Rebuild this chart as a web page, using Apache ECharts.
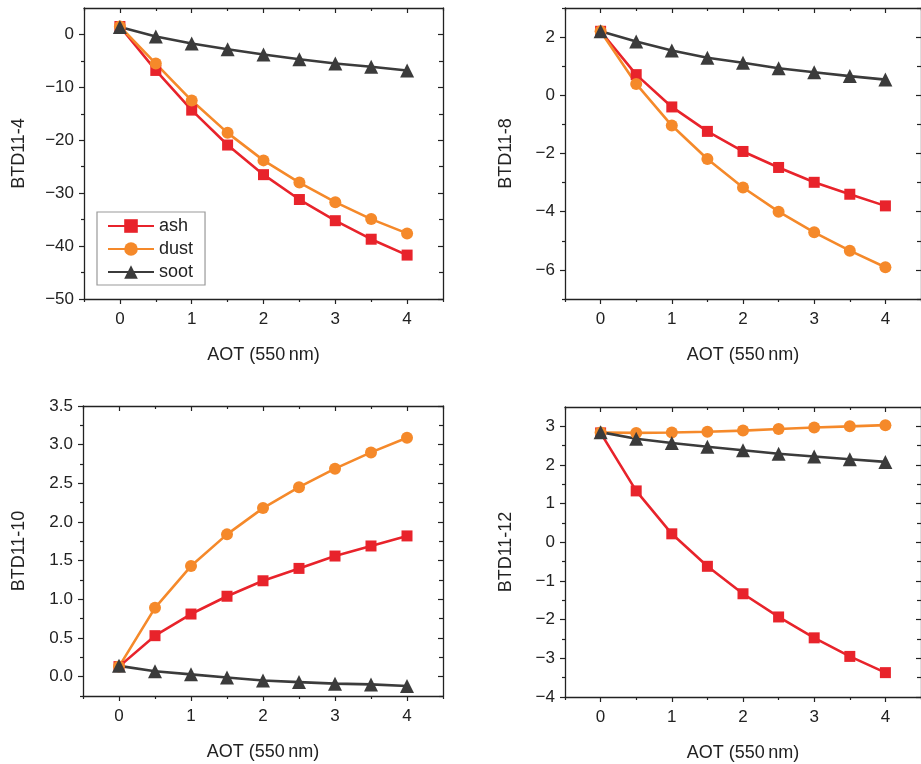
<!DOCTYPE html>
<html>
<head>
<meta charset="utf-8">
<script src="https://cdn.jsdelivr.net/npm/echarts@6/dist/echarts.min.js"></script>
<style>
  html, body { margin: 0; padding: 0; background: #fff; }
  #chart { width: 921px; height: 764px; }
</style>
</head>
<body>
<div id="chart"></div>
<script>
// AOT values on the x axis
const aot = [0, 0.5, 1, 1.5, 2, 2.5, 3, 3.5, 4];
const xMajor = [0, 1, 2, 3, 4];
const xMinor = [-0.5, 0.5, 1.5, 2.5, 3.5, 4.5];

// BTD11-4
const ash4  = [1.5, -6.8, -14.3, -20.9, -26.5, -31.2, -35.2, -38.7, -41.7];
const dust4 = [1.5, -5.5, -12.5, -18.6, -23.8, -28.0, -31.7, -34.9, -37.6];
const soot4 = [1.4, -0.4, -1.7, -2.8, -3.8, -4.7, -5.5, -6.1, -6.8];
const yMajor4 = [-50, -40, -30, -20, -10, 0];
const yMinor4 = [-45, -35, -25, -15, -5];

// BTD11-8
const ash8  = [2.2, 0.71, -0.40, -1.24, -1.93, -2.48, -2.99, -3.40, -3.80];
const dust8 = [2.2, 0.39, -1.04, -2.19, -3.17, -4.00, -4.71, -5.34, -5.91];
const soot8 = [2.2, 1.85, 1.54, 1.29, 1.12, 0.93, 0.79, 0.66, 0.54];
const yMajor8 = [-6, -4, -2, 0, 2];
const yMinor8 = [-7, -5, -3, -1, 1, 3];

// BTD11-10
const ash10  = [0.13, 0.53, 0.81, 1.04, 1.24, 1.40, 1.56, 1.69, 1.82];
const dust10 = [0.13, 0.89, 1.43, 1.84, 2.18, 2.45, 2.69, 2.90, 3.09];
const soot10 = [0.14, 0.07, 0.03, -0.01, -0.05, -0.07, -0.09, -0.10, -0.12];
const yMajor10 = [0, 0.5, 1, 1.5, 2, 2.5, 3, 3.5];
const yMinor10 = [-0.25, 0.25, 0.75, 1.25, 1.75, 2.25, 2.75, 3.25];

// BTD11-12
const ash12  = [2.83, 1.33, 0.22, -0.62, -1.33, -1.93, -2.47, -2.95, -3.37];
const dust12 = [2.84, 2.83, 2.84, 2.86, 2.89, 2.93, 2.97, 3.00, 3.03];
const soot12 = [2.85, 2.68, 2.57, 2.47, 2.38, 2.29, 2.22, 2.15, 2.08];
const yMajor12 = [-4, -3, -2, -1, 0, 1, 2, 3];
const yMinor12 = [-3.5, -2.5, -1.5, -0.5, 0.5, 1.5, 2.5];

const panels = [
  { title: 'BTD11-4',  ash: ash4,  dust: dust4,  soot: soot4,  min: -50,   max: 5,   major: yMajor4,  minor: yMinor4,  dec: 0 },
  { title: 'BTD11-8',  ash: ash8,  dust: dust8,  soot: soot8,  min: -7,    max: 3,   major: yMajor8,  minor: yMinor8,  dec: 0 },
  { title: 'BTD11-10', ash: ash10, dust: dust10, soot: soot10, min: -0.25, max: 3.5, major: yMajor10, minor: yMinor10, dec: 1 },
  { title: 'BTD11-12', ash: ash12, dust: dust12, soot: soot12, min: -4,    max: 3.5, major: yMajor12, minor: yMinor12, dec: 0 }
];

// plot boxes
const layout = [
  { left: 84,  top: 8,   width: 359, height: 291, gap: 56 },
  { left: 565, top: 8,   width: 359, height: 291, gap: 50 },
  { left: 83,  top: 406, width: 360, height: 290, gap: 55 },
  { left: 565, top: 407, width: 359, height: 290, gap: 50 }
];

const AXIS = '#222';
const FONT = 'Liberation Sans, Arial, sans-serif';
const colors = { ash: '#e8232b', dust: '#f5892a', soot: '#3b3b3b' };

function fmt(v, dec) {
  return v.toFixed(dec).replace('-', '\u2212');
}

function axis(dim, gi, pos, min, max, ticks, len, inside, opts) {
  return Object.assign({
    type: 'value', gridIndex: gi, position: pos, min: min, max: max,
    splitLine: { show: false },
    axisLine: { show: false, onZero: false, lineStyle: { color: AXIS, width: 1.3 } },
    axisTick: { show: true, customValues: ticks, length: len, inside: inside, lineStyle: { color: AXIS, width: 1.2 } },
    axisLabel: { show: false }
  }, opts || {});
}

const grid = [], xAxis = [], yAxis = [], series = [];
panels.forEach((p, i) => {
  const L = layout[i];
  grid.push({ left: L.left, top: L.top, width: L.width, height: L.height });

  xAxis.push(axis('x', i, 'bottom', -0.5, 4.5, xMajor, 5, false, {
    axisLine: { show: true, onZero: false, lineStyle: { color: AXIS, width: 1.3 } },
    axisLabel: { show: true, customValues: xMajor, margin: 12, color: '#222', fontSize: 17, fontFamily: FONT,
      formatter: v => fmt(v, 0) },
    name: 'AOT (550\u2009nm)', nameLocation: 'middle', nameGap: 47,
    nameTextStyle: { color: '#222', fontSize: 18, fontFamily: FONT }
  }));
  xAxis.push(axis('x', i, 'bottom', -0.5, 4.5, xMinor, 3, false));
  xAxis.push(axis('x', i, 'top', -0.5, 4.5, xMajor, 5, true, {
    axisLine: { show: true, onZero: false, lineStyle: { color: AXIS, width: 1.3 } }
  }));
  xAxis.push(axis('x', i, 'top', -0.5, 4.5, xMinor, 3, true));

  yAxis.push(axis('y', i, 'left', p.min, p.max, p.major, 5, false, {
    axisLine: { show: true, onZero: false, lineStyle: { color: AXIS, width: 1.3 } },
    axisLabel: { show: true, customValues: p.major, margin: 10, color: '#222', fontSize: 17, fontFamily: FONT,
      formatter: v => fmt(v, p.dec) },
    name: p.title, nameLocation: 'middle', nameGap: L.gap, nameRotate: 90,
    nameTextStyle: { color: '#222', fontSize: 18, fontFamily: FONT }
  }));
  yAxis.push(axis('y', i, 'left', p.min, p.max, p.minor, 3, false));
  yAxis.push(axis('y', i, 'right', p.min, p.max, p.major, 5, true, {
    axisLine: { show: true, onZero: false, lineStyle: { color: AXIS, width: 1.3 } }
  }));
  yAxis.push(axis('y', i, 'right', p.min, p.max, p.minor, 4, true));

  [['ash', 'rect', 11], ['dust', 'circle', 12], ['soot', 'triangle', 14]].forEach(([key, sym, size]) => {
    series.push({
      name: key, type: 'line', xAxisIndex: i * 4, yAxisIndex: i * 4,
      data: aot.map((x, k) => [x, p[key][k]]),
      symbol: sym, symbolSize: size, showAllSymbol: true,
      lineStyle: { color: colors[key], width: 2.6 },
      itemStyle: { color: colors[key] },
      emphasis: { disabled: true },
      animation: false
    });
  });
});

const chart = echarts.init(document.getElementById('chart'));
chart.setOption({
  backgroundColor: '#fff',
  animation: false,
  legend: {
    data: ['ash', 'dust', 'soot'], orient: 'vertical', left: 97, top: 212,
    padding: [5, 12, 4, 10], itemGap: 5, itemWidth: 46, itemHeight: 17,
    borderColor: '#999', borderWidth: 1.2, borderRadius: 0, selectedMode: false,
    textStyle: { color: '#222', fontSize: 18, fontFamily: FONT }
  },
  grid: grid, xAxis: xAxis, yAxis: yAxis, series: series
});
</script>
</body>
</html>
